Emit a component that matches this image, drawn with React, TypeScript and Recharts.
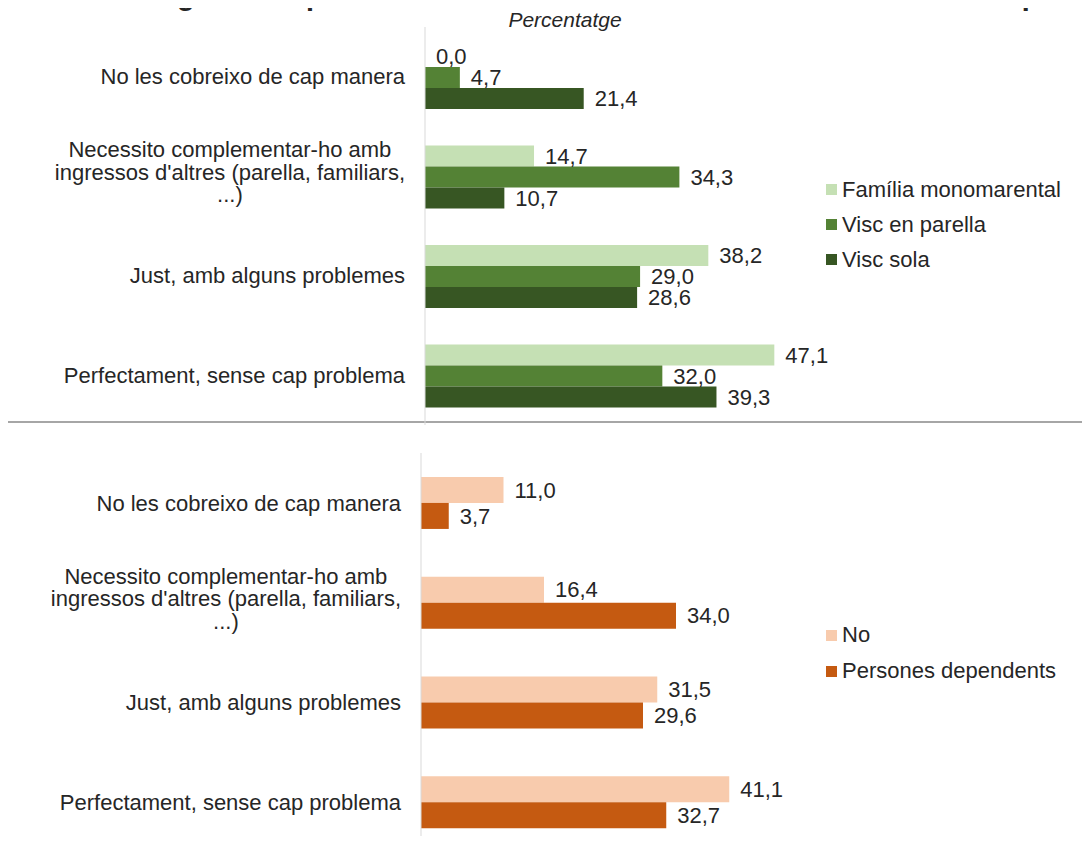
import { Bar, BarChart, LabelList, XAxis, YAxis } from "recharts";

const categories = [
  "No les cobreixo de cap manera",
  "Necessito complementar-ho amb ingressos d'altres (parella, familiars, ...)",
  "Just, amb alguns problemes",
  "Perfectament, sense cap problema",
];

const monomarental = [0.0, 14.7, 38.2, 47.1];
const parella = [4.7, 34.3, 29.0, 32.0];
const sola = [21.4, 10.7, 28.6, 39.3];

const noDependents = [11.0, 16.4, 31.5, 41.1];
const ambDependents = [3.7, 34.0, 29.6, 32.7];

const topSeries = [
  { key: "mono", name: "Família monomarental", color: "#c5e0b4", values: monomarental },
  { key: "parella", name: "Visc en parella", color: "#548235", values: parella },
  { key: "sola", name: "Visc sola", color: "#375623", values: sola },
];

const bottomSeries = [
  { key: "no", name: "No", color: "#f8cbad", values: noDependents },
  { key: "dep", name: "Persones dependents", color: "#c55a11", values: ambDependents },
];

const FONT = "'Liberation Sans', Arial, sans-serif";
const TEXT = "#262626";
const FS = 22;

function buildRows(series: { key: string; values: number[] }[]) {
  return categories.map((cat, i) => {
    const row: Record<string, string | number> = { cat };
    series.forEach((s) => {
      row[s.key] = s.values[i];
    });
    return row;
  });
}

let ctx: CanvasRenderingContext2D | null = null;
function measure(text: string) {
  if (!ctx) {
    ctx = document.createElement("canvas").getContext("2d");
  }
  if (!ctx) return text.length * 10;
  ctx.font = `${FS}px 'Liberation Sans', Arial, sans-serif`;
  return ctx.measureText(text).width;
}

function wrap(text: string, maxWidth: number) {
  const words = text.split(" ");
  const lines: string[] = [];
  let cur = "";
  words.forEach((w) => {
    const next = cur ? cur + " " + w : w;
    if (measure(next) > maxWidth && cur) {
      lines.push(cur);
      cur = w;
    } else {
      cur = next;
    }
  });
  if (cur) lines.push(cur);
  return lines;
}

function CategoryTick(props: any) {
  const { x, y, payload } = props;
  const lines = wrap(payload.value, 365);
  const right = x - 20;
  if (lines.length === 1) {
    return (
      <text x={right} y={y} dy="0.35em" textAnchor="end" fontSize={FS} fill={TEXT} fontFamily={FONT}>
        {lines[0]}
      </text>
    );
  }
  const widest = Math.max(...lines.map((l) => measure(l)));
  const cx = right - widest / 2;
  return (
    <text textAnchor="middle" fontSize={FS} fill={TEXT} fontFamily={FONT}>
      {lines.map((l, i) => (
        <tspan key={i} x={cx} y={y - 4 + (i - (lines.length - 1) / 2) * 22.5} dy="0.35em">
          {l}
        </tspan>
      ))}
    </text>
  );
}

const fmt = (v: any) => Number(v).toFixed(1).replace(".", ",");

function ValueLabel(props: any) {
  const { x, y, width, height, value } = props;
  return (
    <text
      x={x + Math.max(width, 0) + 11}
      y={y + height / 2}
      dy="0.35em"
      fontSize={FS}
      fill={TEXT}
      fontFamily={FONT}
    >
      {fmt(value)}
    </text>
  );
}

function LegendBox({
  items,
  left,
  top,
  rowHeight,
}: {
  items: { name: string; color: string }[];
  left: number;
  top: number;
  rowHeight: number;
}) {
  return (
    <div style={{ position: "absolute", left, top, fontFamily: FONT, fontSize: FS, color: TEXT }}>
      {items.map((it) => (
        <div key={it.name} style={{ display: "flex", alignItems: "center", height: rowHeight, whiteSpace: "nowrap" }}>
          <span style={{ width: 11, height: 11, background: it.color, marginRight: 5, display: "inline-block" }} />
          <span>{it.name}</span>
        </div>
      ))}
    </div>
  );
}

function GroupChart({
  series,
  width,
  height,
  margin,
  axisWidth,
  gap,
}: {
  series: { key: string; name: string; color: string; values: number[] }[];
  width: number;
  height: number;
  margin: { top: number; right: number; bottom: number; left: number };
  axisWidth: number;
  gap: string;
}) {
  const rows = buildRows(series);
  return (
    <BarChart
      width={width}
      height={height}
      data={rows}
      layout="vertical"
      margin={margin}
      barCategoryGap={gap}
      barGap={0}
    >
      <XAxis type="number" domain={[0, 60]} hide />
      <YAxis
        type="category"
        dataKey="cat"
        width={axisWidth}
        axisLine={{ stroke: "#d9d9d9" }}
        tickLine={false}
        tickSize={0}
        tickMargin={0}
        tick={<CategoryTick />}
        interval={0}
      />
      {series.map((s) => (
        <Bar
          key={s.key}
          dataKey={s.key}
          name={s.name}
          fill={s.color}
          minPointSize={0.01}
          isAnimationActive={false}
        >
          <LabelList dataKey={s.key} content={<ValueLabel />} />
        </Bar>
      ))}
    </BarChart>
  );
}

export default function App() {
  return (
    <div style={{ position: "relative", width: 1090, height: 844, margin: -8, overflow: "hidden", background: "#fff" }}>
      <svg width={1090} height={844} style={{ position: "absolute", left: 0, top: 0 }}>
        <text x={555} y={5} textAnchor="middle" fontSize={29} fontWeight="bold" fill={TEXT} fontFamily={FONT}>
          Amb els ingressos que obtinc cobreixo les meves necessitats econòmiques
        </text>
        <text x={565} y={27} textAnchor="middle" fontSize={21} fontStyle="italic" fill={TEXT} fontFamily={FONT}>
          Percentatge
        </text>
        <line x1={4} x2={1090} y1={422} y2={422} stroke="#a6a6a6" strokeWidth={2} />
      </svg>
      <div style={{ position: "absolute", left: 0, top: 0 }}>
        <GroupChart
          series={topSeries}
          width={1090}
          height={440}
          margin={{ top: 27, right: 220, bottom: 15, left: 0 }}
          axisWidth={425}
          gap="19%"
        />
      </div>
      <div style={{ position: "absolute", left: 0, top: 440 }}>
        <GroupChart
          series={bottomSeries}
          width={1090}
          height={420}
          margin={{ top: 13, right: 219, bottom: 8, left: 0 }}
          axisWidth={421}
          gap="24%"
        />
      </div>
      <LegendBox items={topSeries} left={826} top={172} rowHeight={35} />
      <LegendBox items={bottomSeries} left={826} top={617} rowHeight={36} />
    </div>
  );
}
